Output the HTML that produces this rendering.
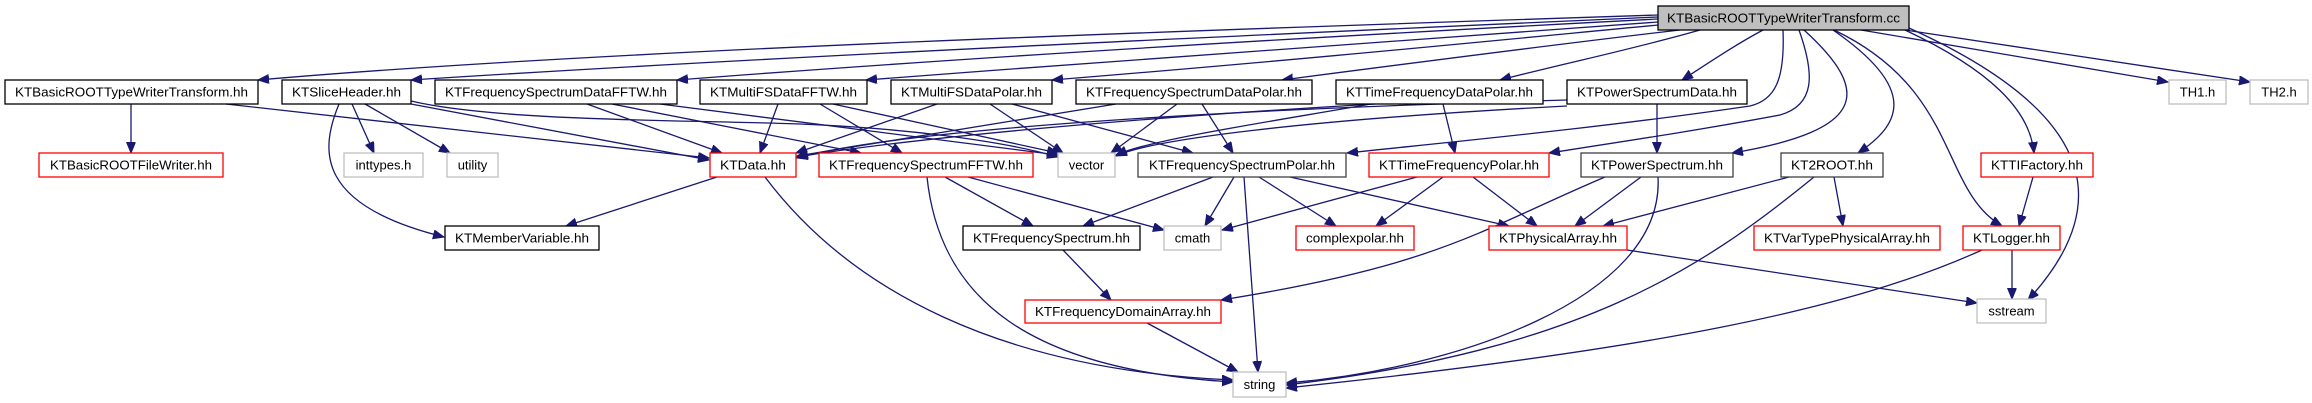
<!DOCTYPE html>
<html><head><meta charset="utf-8"><style>
html,body{margin:0;padding:0;background:#fff;}
svg{display:block;}
text{font-family:"Liberation Sans",Arial,sans-serif;font-size:13px;fill:#000;}
.e{fill:none;stroke:#191970;stroke-width:1.3;}
.b{fill:#fff;stroke:#000;stroke-width:1.3;}
.r{fill:#fff;stroke:#ff0000;stroke-width:1.3;}
.g{fill:#fff;stroke:#bfbfbf;stroke-width:1.3;}
</style></head><body>
<svg width="2312" height="403" viewBox="0 0 2312 403" xmlns="http://www.w3.org/2000/svg">
<defs>
<marker id="a" markerUnits="userSpaceOnUse" markerWidth="12" markerHeight="10" refX="11" refY="4.5" orient="auto">
<path d="M0,0 L11,4.5 L0,9 z" fill="#191970" stroke="#191970"/>
</marker>
</defs>
<g marker-end="url(#a)">
<!-- root edges -->
<path class="e" d="M1658,15 C1200,30 600,50 258,80"/>
<path class="e" d="M1658,17 C1300,33 800,55 411,80"/>
<path class="e" d="M1658,19 C1350,35 1000,55 677,80"/>
<path class="e" d="M1658,22 C1450,38 1150,58 866,80"/>
<path class="e" d="M1658,25 C1500,40 1300,60 1052,80"/>
<path class="e" d="M1680,30 C1550,45 1420,62 1282,80"/>
<path class="e" d="M1700,30 C1630,50 1570,62 1500,80"/>
<path class="e" d="M1763,30 C1735,45 1710,62 1682,80"/>
<path class="e" d="M1783,30 C1785,80 1775,100 1750,106 C1600,128 1450,142 1347,153"/>
<path class="e" d="M1799,30 C1815,75 1815,105 1780,115 C1700,130 1620,142 1549,153"/>
<path class="e" d="M1804,30 C1870,90 1870,130 1732,153"/>
<path class="e" d="M1833,30 C1920,90 1900,125 1858,153"/>
<path class="e" d="M1834,30 C1960,90 1940,190 2002,226"/>
<path class="e" d="M1905,30 C1990,70 2030,110 2034,153"/>
<path class="e" d="M1909,28 C2090,110 2120,200 2028,300"/>
<path class="e" d="M1861,30 L2168,82"/>
<path class="e" d="M1905,30 L2250,82"/>
<!-- row2 -->
<path class="e" d="M131,104 L131,153"/>
<path class="e" d="M226,104 L709,158"/>
<path class="e" d="M352,104 L374,153"/>
<path class="e" d="M365,104 L450,153"/>
<path class="e" d="M339,104 C320,150 315,205 444,237"/>
<path class="e" d="M411,104 L709,160"/>
<path class="e" d="M411,101 C500,122 700,120 800,124 C900,128 1000,140 1058,157"/>
<path class="e" d="M587,104 L722,153"/>
<path class="e" d="M612,104 L861,153"/>
<path class="e" d="M660,104 L1058,155"/>
<path class="e" d="M778,104 L760,153"/>
<path class="e" d="M820,104 L902,153"/>
<path class="e" d="M833,104 L1058,153"/>
<path class="e" d="M937,104 L796,153"/>
<path class="e" d="M990,104 L1063,153"/>
<path class="e" d="M1012,104 L1193,153"/>
<path class="e" d="M1116,104 L797,156"/>
<path class="e" d="M1177,104 L1111,153"/>
<path class="e" d="M1202,104 L1233,153"/>
<path class="e" d="M1375,104 C1100,120 900,140 797,157"/>
<path class="e" d="M1371,104 C1250,125 1150,140 1116,155"/>
<path class="e" d="M1443,104 L1455,153"/>
<path class="e" d="M1567,100 C1200,110 900,130 797,158"/>
<path class="e" d="M1567,106 C1300,120 1150,140 1116,156"/>
<path class="e" d="M1657,104 L1657,153"/>
<!-- row3 -->
<path class="e" d="M717,177 L566,226"/>
<path class="e" d="M765,177 C850,290 1000,370 1233,380"/>
<path class="e" d="M927,177 C940,300 1030,370 1233,382"/>
<path class="e" d="M945,177 L1033,226"/>
<path class="e" d="M968,177 L1164,230"/>
<path class="e" d="M1213,177 L1083,226"/>
<path class="e" d="M1234,177 L1205,226"/>
<path class="e" d="M1244,177 L1258,372"/>
<path class="e" d="M1259,177 L1336,226"/>
<path class="e" d="M1290,177 L1509,226"/>
<path class="e" d="M1417,177 L1222,230"/>
<path class="e" d="M1443,177 L1376,226"/>
<path class="e" d="M1473,177 L1537,226"/>
<path class="e" d="M1605,177 C1480,230 1440,265 1221,300"/>
<path class="e" d="M1641,177 L1575,226"/>
<path class="e" d="M1658,177 C1665,300 1450,370 1286,383"/>
<path class="e" d="M1789,177 L1603,226"/>
<path class="e" d="M1814,177 C1700,270 1580,350 1286,385"/>
<path class="e" d="M1834,177 L1843,226"/>
<path class="e" d="M2033,177 L2019,226"/>
<!-- row4/5 -->
<path class="e" d="M1063,250 L1111,300"/>
<path class="e" d="M1627,250 L1977,303"/>
<path class="e" d="M2012,250 L2012,299"/>
<path class="e" d="M1982,250 C1850,310 1650,350 1286,388"/>
<path class="e" d="M1147,323 L1238,372"/>
</g>
<!-- nodes -->
<rect x="1658" y="6" width="251" height="24" fill="#bfbfbf" stroke="#000" stroke-width="1.3"/>
<text x="1783.5" y="22.5" text-anchor="middle" textLength="233" lengthAdjust="spacingAndGlyphs">KTBasicROOTTypeWriterTransform.cc</text>

<rect class="b" x="5" y="80" width="253" height="24"/><text x="131.5" y="96.5" text-anchor="middle" textLength="233" lengthAdjust="spacingAndGlyphs">KTBasicROOTTypeWriterTransform.hh</text>
<rect class="b" x="282" y="80" width="129" height="24"/><text x="346.5" y="96.5" text-anchor="middle" textLength="109" lengthAdjust="spacingAndGlyphs">KTSliceHeader.hh</text>
<rect class="b" x="435" y="80" width="242" height="24"/><text x="556" y="96.5" text-anchor="middle" textLength="222" lengthAdjust="spacingAndGlyphs">KTFrequencySpectrumDataFFTW.hh</text>
<rect class="b" x="700" y="80" width="167" height="24"/><text x="783.5" y="96.5" text-anchor="middle" textLength="147" lengthAdjust="spacingAndGlyphs">KTMultiFSDataFFTW.hh</text>
<rect class="b" x="891" y="80" width="161" height="24"/><text x="971.5" y="96.5" text-anchor="middle" textLength="141" lengthAdjust="spacingAndGlyphs">KTMultiFSDataPolar.hh</text>
<rect class="b" x="1076" y="80" width="236" height="24"/><text x="1194" y="96.5" text-anchor="middle" textLength="216" lengthAdjust="spacingAndGlyphs">KTFrequencySpectrumDataPolar.hh</text>
<rect class="b" x="1336" y="80" width="207" height="24"/><text x="1439.5" y="96.5" text-anchor="middle" textLength="187" lengthAdjust="spacingAndGlyphs">KTTimeFrequencyDataPolar.hh</text>
<rect class="b" x="1567" y="80" width="180" height="24"/><text x="1657" y="96.5" text-anchor="middle" textLength="160" lengthAdjust="spacingAndGlyphs">KTPowerSpectrumData.hh</text>
<rect class="g" x="2169" y="80" width="57" height="24"/><text x="2197.5" y="96.5" text-anchor="middle">TH1.h</text>
<rect class="g" x="2250" y="80" width="58" height="24"/><text x="2279" y="96.5" text-anchor="middle">TH2.h</text>

<rect class="r" x="39" y="153" width="184" height="24"/><text x="131" y="169.5" text-anchor="middle" textLength="162" lengthAdjust="spacingAndGlyphs">KTBasicROOTFileWriter.hh</text>
<rect class="g" x="344" y="153" width="79" height="24"/><text x="383.5" y="169.5" text-anchor="middle">inttypes.h</text>
<rect class="g" x="447" y="153" width="51" height="24"/><text x="472.5" y="169.5" text-anchor="middle">utility</text>
<rect class="r" x="710" y="153" width="86" height="24"/><text x="753" y="169.5" text-anchor="middle" textLength="66" lengthAdjust="spacingAndGlyphs">KTData.hh</text>
<rect class="r" x="819" y="153" width="214" height="24"/><text x="926" y="169.5" text-anchor="middle" textLength="194" lengthAdjust="spacingAndGlyphs">KTFrequencySpectrumFFTW.hh</text>
<rect class="g" x="1058" y="153" width="57" height="24"/><text x="1086.5" y="169.5" text-anchor="middle">vector</text>
<rect x="1138" y="153" width="208" height="24" fill="#fff" stroke="#404040" stroke-width="1.3"/><text x="1242" y="169.5" text-anchor="middle" textLength="186" lengthAdjust="spacingAndGlyphs">KTFrequencySpectrumPolar.hh</text>
<rect class="r" x="1369" y="153" width="180" height="24"/><text x="1459" y="169.5" text-anchor="middle" textLength="160" lengthAdjust="spacingAndGlyphs">KTTimeFrequencyPolar.hh</text>
<rect x="1581" y="153" width="152" height="24" fill="#fff" stroke="#404040" stroke-width="1.3"/><text x="1657" y="169.5" text-anchor="middle" textLength="132" lengthAdjust="spacingAndGlyphs">KTPowerSpectrum.hh</text>
<rect x="1781" y="153" width="102" height="24" fill="#fff" stroke="#404040" stroke-width="1.3"/><text x="1832" y="169.5" text-anchor="middle" textLength="82" lengthAdjust="spacingAndGlyphs">KT2ROOT.hh</text>
<rect class="r" x="1981" y="153" width="112" height="24"/><text x="2037" y="169.5" text-anchor="middle" textLength="92" lengthAdjust="spacingAndGlyphs">KTTIFactory.hh</text>

<rect class="b" x="445" y="226" width="154" height="24"/><text x="522" y="242.5" text-anchor="middle" textLength="134" lengthAdjust="spacingAndGlyphs">KTMemberVariable.hh</text>
<rect class="b" x="963" y="226" width="177" height="24"/><text x="1051.5" y="242.5" text-anchor="middle" textLength="157" lengthAdjust="spacingAndGlyphs">KTFrequencySpectrum.hh</text>
<rect class="g" x="1164" y="226" width="57" height="24"/><text x="1192.5" y="242.5" text-anchor="middle">cmath</text>
<rect class="r" x="1296" y="226" width="118" height="24"/><text x="1355" y="242.5" text-anchor="middle" textLength="98" lengthAdjust="spacingAndGlyphs">complexpolar.hh</text>
<rect class="r" x="1489" y="226" width="138" height="24"/><text x="1558" y="242.5" text-anchor="middle" textLength="118" lengthAdjust="spacingAndGlyphs">KTPhysicalArray.hh</text>
<rect class="r" x="1754" y="226" width="186" height="24"/><text x="1847" y="242.5" text-anchor="middle" textLength="166" lengthAdjust="spacingAndGlyphs">KTVarTypePhysicalArray.hh</text>
<rect class="r" x="1963" y="226" width="97" height="24"/><text x="2011.5" y="242.5" text-anchor="middle" textLength="77" lengthAdjust="spacingAndGlyphs">KTLogger.hh</text>

<rect class="r" x="1025" y="300" width="196" height="23"/><text x="1123" y="316" text-anchor="middle" textLength="176" lengthAdjust="spacingAndGlyphs">KTFrequencyDomainArray.hh</text>
<rect class="g" x="1977" y="299" width="69" height="24"/><text x="2011.5" y="315.5" text-anchor="middle">sstream</text>

<rect class="g" x="1233" y="372" width="53" height="25"/><text x="1259.5" y="389" text-anchor="middle">string</text>
</svg>
</body></html>
